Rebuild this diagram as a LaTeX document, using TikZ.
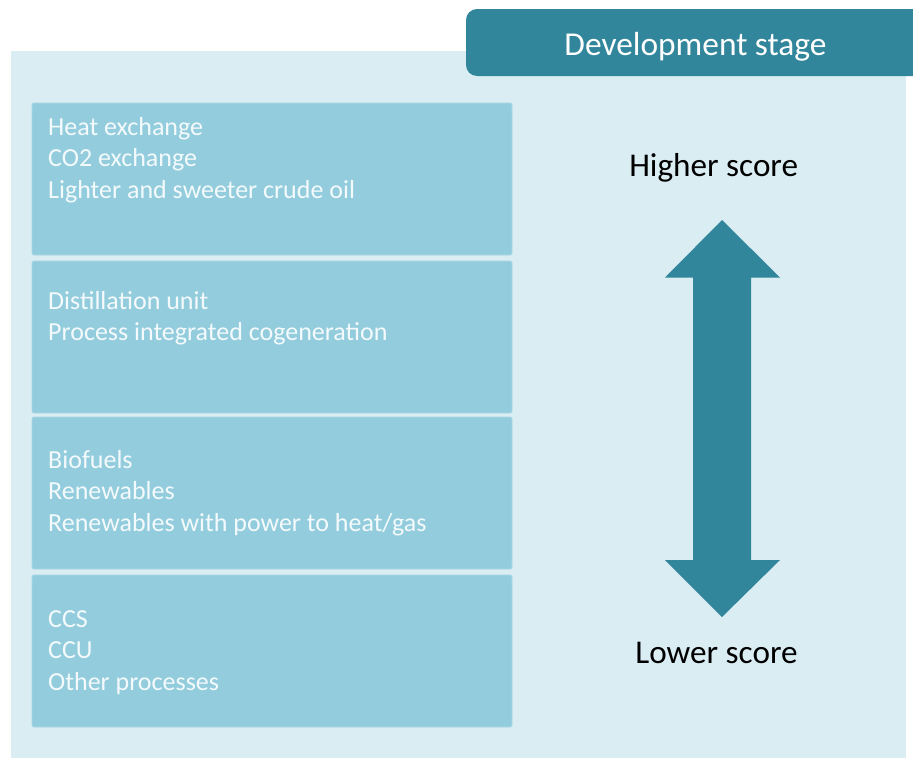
\documentclass[tikz,border=0pt]{standalone}
\usepackage{fontspec}
\setmainfont{Carlito}
\definecolor{panelc}{HTML}{DAEDF3}
\definecolor{boxc}{HTML}{93CDDD}
\definecolor{boxedge}{HTML}{A9D7E4}
\definecolor{teal}{HTML}{31869B}
\definecolor{boxtext}{HTML}{F4FAFC}
\tikzset{
  panel/.style={fill=panelc, draw=none},
  itembox/.style={fill=boxc, draw=boxedge, line width=0.8pt, rounded corners=2pt},
  itemtext/.style={anchor=north west, inner sep=0pt, align=left, text=boxtext,
    font=\fontsize{26}{31.5}\selectfont},
  header/.style={fill=teal, draw=none, rounded corners=11pt},
  headtext/.style={anchor=base, inner sep=0pt, text=white, font=\fontsize{33.4}{38}\selectfont},
  scoretext/.style={anchor=base, inner sep=0pt, text=black, font=\fontsize{33.2}{38}\selectfont},
  bigarrow/.style={fill=teal, draw=none}
}
\begin{document}
\begin{tikzpicture}[x=1pt,y=-1pt]
\useasboundingbox (0,0) rectangle (913,758);
% panel
\path[panel] (11,51) rectangle (906,758);
% header
\begin{scope}
\clip (0,0) rectangle (913,758);
\path[header] (466,9) rectangle (930,76);
\end{scope}
\node[headtext] (hdr) at (695.5,55) {Development stage};
% boxes
\path[itembox] (32,103) rectangle (512,255);
\path[itembox] (32,261) rectangle (512,413);
\path[itembox] (32,417) rectangle (512,569);
\path[itembox] (32,575) rectangle (512,727);
\node[itemtext] (t1) at (48,{135-22.05}) {\strut Heat exchange\\\strut CO2 exchange\\\strut Lighter and sweeter crude oil};
\node[itemtext] (t2) at (48,{309-22.05}) {\strut Distillation unit\\\strut Process integrated cogeneration};
\node[itemtext] (t3) at (48,{468-22.05}) {\strut Biofuels\\\strut Renewables\\\strut Renewables with power to heat/gas};
\node[itemtext] (t4) at (48,{627-22.05}) {\strut CCS\\\strut CCU\\\strut Other processes};
% arrow
\path[bigarrow] (722,220) -- (780,277.5) -- (751,277.5) -- (751,560) -- (780,560) -- (722,617)
  -- (665,560) -- (693,560) -- (693,277.5) -- (665,277.5) -- cycle;
\node[scoretext] (hi) at (713.7,176) {Higher score};
\node[scoretext] (lo) at (716.5,663) {Lower score};
\end{tikzpicture}
\end{document}
